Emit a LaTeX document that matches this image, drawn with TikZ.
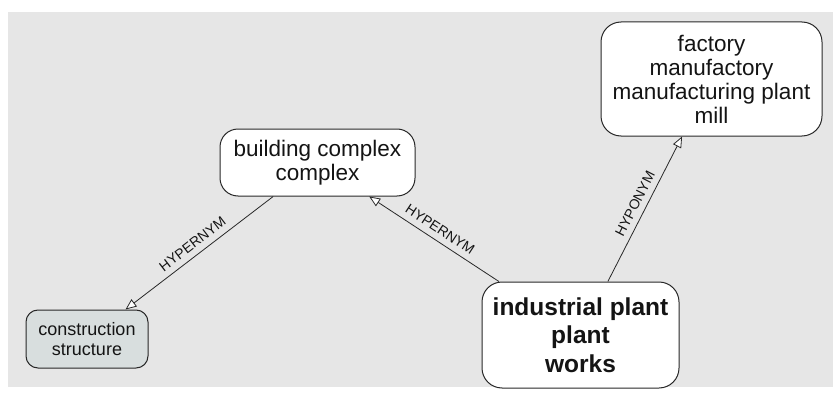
\documentclass[tikz,border=0pt]{standalone}
\usepackage{fontspec}
\setmainfont{Liberation Sans}
\usetikzlibrary{arrows.meta}
\definecolor{bggray}{RGB}{230,230,230}
\definecolor{boxfill}{RGB}{216,222,222}
\definecolor{edgecol}{RGB}{40,40,40}
\definecolor{txtcol}{RGB}{20,20,20}
\tikzset{
  wnbox/.style={draw=edgecol, line width=1pt, fill=white, align=center, inner sep=0pt, text=txtcol},
  rel/.style={draw=edgecol, line width=0.8pt, -{Triangle[open, length=11pt, width=9pt, fill=white]}},
  rellabel/.style={sloped, above=6pt, inner sep=0pt, text depth=0pt, font=\fontsize{14}{14}\selectfont, text=txtcol}
}
\begin{document}
\begin{tikzpicture}[x=1pt,y=-1pt]
\useasboundingbox (0,0) rectangle (833,396);
\fill[bggray] (8,12) rectangle (833,387);
\node[wnbox, rounded corners=20pt, minimum width=221pt, minimum height=114pt,
  font=\fontsize{22.5}{24}\selectfont] (fac) at (711.5,79)
  {factory\\manufactory\\manufacturing plant\\mill};
\node[wnbox, rounded corners=18pt, minimum width=195pt, minimum height=67pt,
  font=\fontsize{22.5}{24}\selectfont] (bld) at (317.5,162.5)
  {building complex\\complex};
\node[wnbox, fill=boxfill, rounded corners=12pt, minimum width=122pt, minimum height=58pt,
  font=\fontsize{18}{20}\selectfont] (con) at (87,339)
  {construction\\structure};
\node[wnbox, rounded corners=20pt, minimum width=197pt, minimum height=106pt,
  font=\bfseries\fontsize{24.5}{28.5}\selectfont] (ind) at (580.5,335)
  {industrial plant\\plant\\works};
\draw[rel] (bld) -- node[rellabel] {HYPERNYM} (con);
\draw[rel] (ind) -- node[rellabel] {HYPERNYM} (bld);
\draw[rel] (ind) -- node[rellabel] {HYPONYM} (fac);
\end{tikzpicture}
\end{document}
